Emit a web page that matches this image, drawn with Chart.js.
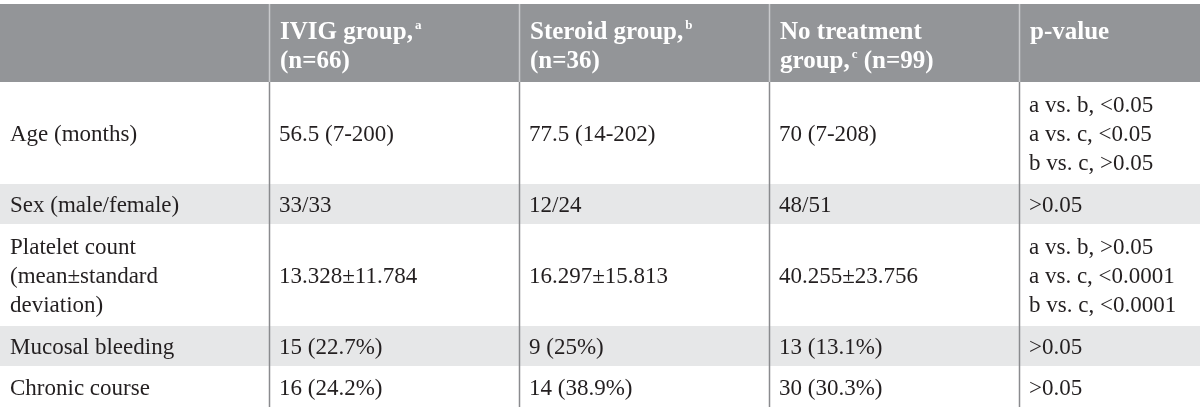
<!DOCTYPE html>
<html>
<head>
<meta charset="utf-8">
<script src="https://cdn.jsdelivr.net/npm/chart.js@4.4.1/dist/chart.umd.min.js"></script>
<style>
body{margin:0;background:#fff}
canvas{display:block}
</style>
</head>
<body>
<canvas id="tableChart" width="1200" height="407"></canvas>
<script>

// table content
let characteristics = ["Age (months)", "Sex (male/female)", "Platelet count\n(mean±standard\ndeviation)", "Mucosal bleeding", "Chronic course"]
let ivigGroup = ["56.5 (7-200)", "33/33", "13.328±11.784", "15 (22.7%)", "16 (24.2%)"]
let steroidGroup = ["77.5 (14-202)", "12/24", "16.297±15.813", "9 (25%)", "14 (38.9%)"]
let noTreatmentGroup = ["70 (7-208)", "48/51", "40.255±23.756", "13 (13.1%)", "30 (30.3%)"]
let pValues = ["a vs. b, <0.05\na vs. c, <0.05\nb vs. c, >0.05", ">0.05", "a vs. b, >0.05\na vs. c, <0.0001\nb vs. c, <0.0001", ">0.05", ">0.05"]

// header: each line is a list of [text, superscript?]
let headers = [
  [],
  [[["IVIG group,"], ["a", true]], [["(n=66)"]]],
  [[["Steroid group,"], ["b", true]], [["(n=36)"]]],
  [[["No treatment"]], [["group,"], ["c", true], [" (n=99)"]]],
  [[["p-value"]]]
]

// layout in table units
let colEdges = [0, 269, 519, 769, 1019, 1200]
let rowEdges = [4, 82, 184, 224, 326, 366, 407]
let shadedRows = [1, 3]

let bodyFont = "23px 'Liberation Serif'"
let headFont = "bold 25px 'Liberation Serif'"
let supFont = "bold 13px 'Liberation Serif'"
let lineH = 28.8

let tablePlugin = {
  id: "tableDraw",
  beforeDatasetsDraw(chart){
    let ctx = chart.ctx
    let x = chart.scales.x
    let y = chart.scales.y
    let px = v => x.getPixelForValue(v)
    let py = v => y.getPixelForValue(v)
    let left = px(colEdges[0]), right = px(colEdges[colEdges.length-1])

    ctx.save()

    // header background
    ctx.fillStyle = "#939598"
    ctx.fillRect(left, py(rowEdges[0]), right-left, py(rowEdges[1])-py(rowEdges[0]))

    // shaded body rows
    ctx.fillStyle = "#e6e7e8"
    shadedRows.forEach(r => {
      ctx.fillRect(left, py(rowEdges[r+1]), right-left, py(rowEdges[r+2])-py(rowEdges[r+1]))
    })

    // column lines
    for(let i=1;i<colEdges.length-1;i++){
      let lx = Math.round(px(colEdges[i]))+0.5
      ctx.strokeStyle = "#c9cacc"
      ctx.lineWidth = 1.5
      ctx.beginPath()
      ctx.moveTo(lx, py(rowEdges[0]))
      ctx.lineTo(lx, py(rowEdges[1]))
      ctx.stroke()
      ctx.strokeStyle = "#8a8b8e"
      ctx.beginPath()
      ctx.moveTo(lx, py(rowEdges[1]))
      ctx.lineTo(lx, py(rowEdges[rowEdges.length-1]))
      ctx.stroke()
    }

    // header text
    ctx.fillStyle = "#ffffff"
    ctx.textBaseline = "alphabetic"
    headers.forEach((lines, c) => {
      lines.forEach((segs, li) => {
        let tx = px(colEdges[c]) + 11
        let base = py(rowEdges[0]) + 35 + li*29
        segs.forEach(s => {
          if(s[1]){
            ctx.font = supFont
            ctx.fillText(s[0], tx+2, base-10)
            tx += ctx.measureText(s[0]).width + 2
          } else {
            ctx.font = headFont
            ctx.fillText(s[0], tx, base)
            tx += ctx.measureText(s[0]).width
          }
        })
      })
    })

    // body text
    let columns = [characteristics, ivigGroup, steroidGroup, noTreatmentGroup, pValues]
    ctx.fillStyle = "#231f20"
    ctx.font = bodyFont
    columns.forEach((col, c) => {
      col.forEach((cell, r) => {
        let lines = cell.split("\n")
        let mid = (py(rowEdges[r+1]) + py(rowEdges[r+2]))/2
        let first = mid + 8 - (lines.length-1)*lineH/2
        lines.forEach((t, li) => {
          ctx.fillText(t, px(colEdges[c]) + 10, first + li*lineH)
        })
      })
    })

    ctx.restore()
  }
}

new Chart(document.getElementById("tableChart"), {
  type: "scatter",
  data: { datasets: [{ data: [] }] },
  options: {
    responsive: false,
    animation: false,
    layout: { padding: 0 },
    plugins: { legend: { display: false }, tooltip: { enabled: false } },
    scales: {
      x: { type: "linear", min: colEdges[0], max: colEdges[colEdges.length-1], display: false },
      y: { type: "linear", min: 0, max: 407, reverse: true, display: false }
    }
  },
  plugins: [tablePlugin]
})

</script>
</body>
</html>
